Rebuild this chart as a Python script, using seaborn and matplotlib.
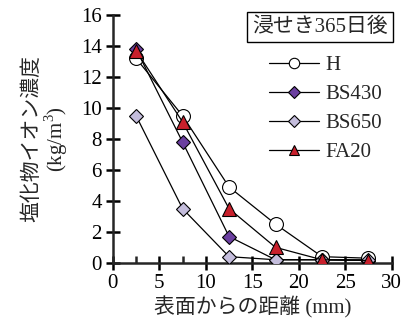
import matplotlib
matplotlib.use("Agg")
import matplotlib.pyplot as plt
import seaborn as sns
import pandas as pd
from matplotlib.ticker import MultipleLocator

depth = [2.5, 7.5, 12.5, 17.5, 22.5, 27.5]
series_names = ["H", "BS430", "BS650", "FA20"]
H = [13.2, 9.5, 4.9, 2.5, 0.4, 0.3]
BS430 = [13.8, 7.8, 1.7, 0.2, 0.2, 0.15]
BS650 = [9.5, 3.5, 0.4, 0.2, 0.2, 0.2]
FA20 = [13.7, 9.1, 3.5, 1.0, 0.2, 0.15]
values = [H, BS430, BS650, FA20]

legend_title = "浸せき365日後"
xlabel = "表面からの距離 (mm)"
ylabel = "塩化物イオン濃度\n(kg/m$^3$)"

sns.set_style("ticks")
plt.rcParams['font.family'] = ['Liberation Serif', 'Noto Sans CJK JP']
plt.rcParams['mathtext.fontset'] = 'custom'
plt.rcParams['mathtext.rm'] = 'Liberation Serif'

rows = []
for n, v in zip(series_names, values):
    for d, c in zip(depth, v):
        rows.append({"depth": d, "conc": c, "series": n})
df = pd.DataFrame(rows)

colors = {"H": "white", "BS430": "#6b3fa0", "BS650": "#c4bddc", "FA20": "#c8202c"}
markers = {"H": "o", "BS430": "D", "BS650": "D", "FA20": "^"}
msize = {"H": 10, "BS430": 7.5, "BS650": 7.5, "FA20": 10}

fig = plt.figure(figsize=(4.03, 3.34), dpi=100)
ax = fig.add_axes([0.28, 0.213, 0.692, 0.742])

for n in series_names:
    sub = df[df.series == n]
    sns.lineplot(data=sub, x="depth", y="conc", ax=ax, color="black", lw=0.9,
                 marker=markers[n], markersize=msize[n], markerfacecolor=colors[n],
                 markeredgecolor="black", markeredgewidth=0.8, label=n, zorder=3)

ax.set_xlim(0, 30)
ax.set_ylim(0, 16)
ax.xaxis.set_major_locator(MultipleLocator(5))
ax.xaxis.set_minor_locator(MultipleLocator(2.5))
ax.yaxis.set_major_locator(MultipleLocator(2))
for s in ["top", "right"]:
    ax.spines[s].set_visible(False)
for s in ["left", "bottom"]:
    ax.spines[s].set_linewidth(1.8)
ax.tick_params(axis="both", which="major", direction="inout", length=10, width=1.8,
               labelsize=15, colors="black", pad=3)
ax.tick_params(axis="x", which="minor", direction="in", length=5, width=1.8)
ax.set_xlabel(xlabel, fontsize=15, labelpad=2)
ax.set_ylabel(ylabel, fontsize=15, labelpad=8, linespacing=1.0)

leg = ax.legend(loc="upper left", bbox_to_anchor=(0.53, 0.87), frameon=False,
                fontsize=15, handlelength=2.4, handletextpad=0.3, labelspacing=0.45,
                borderaxespad=0, markerscale=0.75)
ax.text(0.985, 0.99, legend_title, transform=ax.transAxes, ha="right", va="top",
        fontsize=15, bbox=dict(boxstyle="square,pad=0.25", fc="white", ec="black", lw=1))

fig.savefig("out.png", dpi=100)
